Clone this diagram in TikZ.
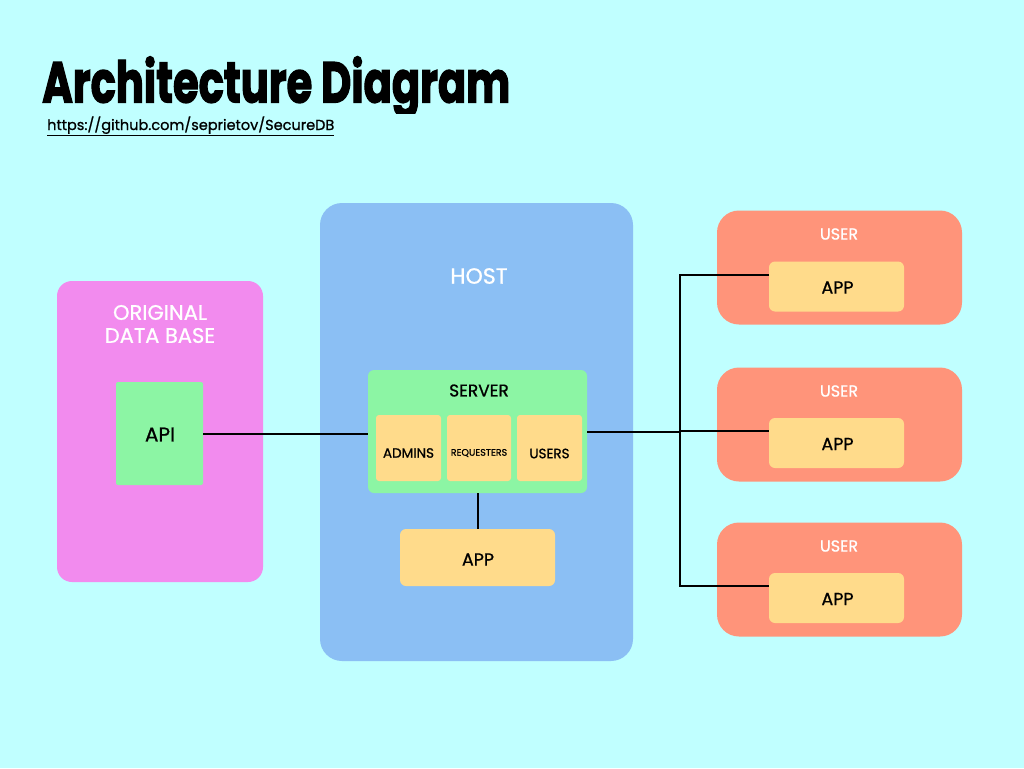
\documentclass[tikz,border=0pt]{standalone}
\usepackage{fontspec}
\setmainfont{Poppins}[UprightFeatures={FakeBold=0.9}, BoldFeatures={FakeBold=2.5}]
\usetikzlibrary{calc}
\definecolor{bgc}{RGB}{192,255,255}
\definecolor{pinkc}{RGB}{242,139,238}
\definecolor{greenc}{RGB}{140,245,164}
\definecolor{bluec}{RGB}{139,191,244}
\definecolor{yellowc}{RGB}{255,219,139}
\definecolor{salmonc}{RGB}{255,148,122}
\tikzset{
  box/.style={draw=none, inner sep=0pt, outer sep=0pt},
  conn/.style={draw=black, line width=2pt},
  wlabel/.style={text=white, inner sep=0pt, align=center},
  blabel/.style={text=black, inner sep=0pt, align=center},
}
\begin{document}
\begin{tikzpicture}[x=1pt,y=-1pt]
\fill[bgc] (0,0) rectangle (1024,768);
\useasboundingbox (0,0) rectangle (1024,768);

% title (its descender trimmed so that it stays clear of the link)
\begin{scope}
\clip (0,0) rectangle (1024,113);
\node[anchor=base west, inner sep=0pt] (title) at (42,102.5) {\resizebox{468pt}{46pt}{\bfseries Architecture Diagram}};
\end{scope}
\node[anchor=base west, inner sep=0pt, font=\fontsize{14.5}{16}\selectfont] (url) at (47,130) {\underline{https://github.com/seprietov/SecureDB}};

% original database
\node[box, fill=pinkc, rounded corners=15pt, minimum width=206pt, minimum height=301pt] (db) at (160,431.5) {};
\node[wlabel, font=\fontsize{21}{23}\selectfont] (dbl) at (160,324) {ORIGINAL\\DATA BASE};
\node[box, fill=greenc, rounded corners=2pt, minimum width=87pt, minimum height=103pt] (api) at (159.5,433.5) {};
\node[blabel, font=\fontsize{20}{22}\selectfont] (apil) at (160,434.5) {API};

% host
\node[box, fill=bluec, rounded corners=22pt, minimum width=313pt, minimum height=458pt] (host) at (476.5,432) {};
\node[wlabel, font=\fontsize{22}{24}\selectfont] (hostl) at (479,276) {HOST};
\node[box, fill=greenc, rounded corners=6pt, minimum width=219pt, minimum height=123pt] (server) at (477.5,431.5) {};
\node[blabel, font=\fontsize{17}{19}\selectfont] (serverl) at (479,390.5) {SERVER};
\node[box, fill=yellowc, rounded corners=3pt, minimum width=65pt, minimum height=66pt] (admins) at (408.5,448) {};
\node[blabel, font=\fontsize{13.5}{15}\selectfont] (adminsl) at (408.5,453) {ADMINS};
\node[box, fill=yellowc, rounded corners=3pt, minimum width=64pt, minimum height=66pt] (req) at (479,448) {};
\node[blabel, font=\fontsize{9.5}{11}\selectfont] (reql) at (479,453) {REQUESTERS};
\node[box, fill=yellowc, rounded corners=3pt, minimum width=65pt, minimum height=66pt] (users) at (549.5,448) {};
\node[blabel, font=\fontsize{13.5}{15}\selectfont] (usersl) at (549.5,453.5) {USERS};
\node[box, fill=yellowc, rounded corners=6pt, minimum width=155pt, minimum height=57pt] (happ) at (477.5,557.5) {};
\node[blabel, font=\fontsize{17.5}{19}\selectfont] (happl) at (478,559.5) {APP};

% users
\foreach \i/\yc/\ya in {1/267.5/286.5, 2/424.5/443, 3/579.5/598}{
  \node[box, fill=salmonc, rounded corners=22pt, minimum width=245pt, minimum height=114pt] (user\i) at (839.5,\yc) {};
  \node[wlabel, font=\fontsize{16}{18}\selectfont] (userl\i) at (839,\yc-33.5) {USER};
  \node[box, fill=yellowc, rounded corners=6pt, minimum width=135pt, minimum height=50pt] (app\i) at (836.5,\ya) {};
  \node[blabel, font=\fontsize{17.5}{19}\selectfont] (appl\i) at (837.5,\ya+1) {APP};
}

% connectors
\coordinate (bus) at (680,0);
\draw[conn] (api.east) -- (api.east -| server.west);
\draw[conn] (server.south) -- (happ.north);
\draw[conn] (server.east) -- (server.east -| bus);
\draw[conn] ($(app1.west)+(0,-12)$) -- ($(app1.west -| bus)+(0,-12)$) -- ($(app3.west -| bus)+(0,-12)$) -- ($(app3.west)+(0,-12)$);
\draw[conn] ($(app2.west -| bus)+(0,-12)$) -- ($(app2.west)+(0,-12)$);
\end{tikzpicture}
\end{document}
